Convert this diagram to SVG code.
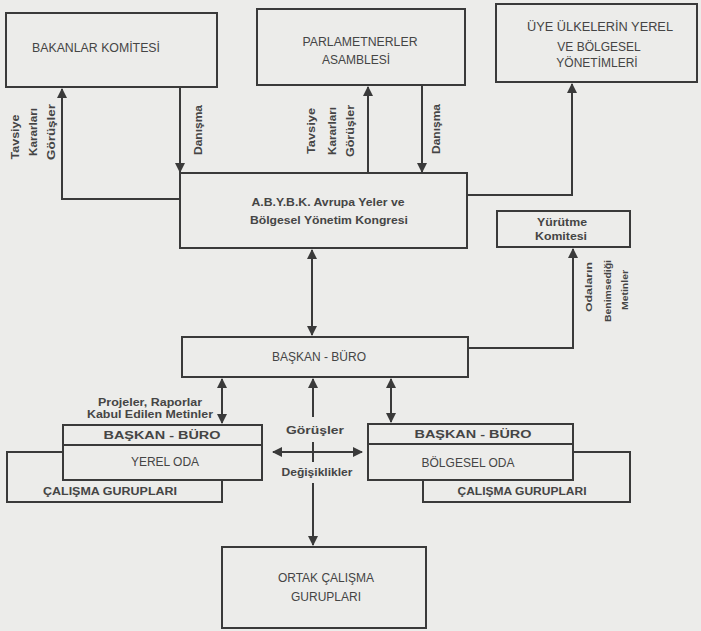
<svg xmlns="http://www.w3.org/2000/svg" width="701" height="631" viewBox="0 0 701 631">
<style>
.box{fill:#ececea;stroke:#3a3a3a;stroke-width:2}
.ln{fill:none;stroke:#3a3a3a;stroke-width:2}
.t{font-family:"Liberation Sans",Arial,sans-serif;fill:#454545;text-anchor:middle}
.r{font-size:12px}
.b{font-size:11px;font-weight:bold}
.s{font-size:10px;font-weight:bold}
.xs{font-size:9px;font-weight:bold}
</style>
<defs>
<marker id="ah" viewBox="0 0 10 10" refX="9" refY="5" markerWidth="5" markerHeight="5" orient="auto-start-reverse" markerUnits="strokeWidth">
<path d="M0,0 L10,5 L0,10 z" fill="#3a3a3a"/>
</marker>
</defs>
<rect width="701" height="631" fill="#ececea"/>

<g id="connectors">
<path class="ln" d="M180,199 H62 V89" marker-end="url(#ah)"/>
<path class="ln" d="M180,87 V172" marker-end="url(#ah)"/>
<path class="ln" d="M368,173 V87" marker-end="url(#ah)"/>
<path class="ln" d="M422,86 V172" marker-end="url(#ah)"/>
<path class="ln" d="M467,195 H572 V84" marker-end="url(#ah)"/>
<path class="ln" d="M312,250 V335" marker-start="url(#ah)" marker-end="url(#ah)"/>
<path class="ln" d="M468,348 H573 V249" marker-end="url(#ah)"/>
<path class="ln" d="M222,379 V423" marker-start="url(#ah)" marker-end="url(#ah)"/>
<path class="ln" d="M391,379 V422" marker-start="url(#ah)" marker-end="url(#ah)"/>
<path class="ln" d="M313,417 V379" marker-end="url(#ah)"/>
<path class="ln" d="M273,452 H362" marker-start="url(#ah)" marker-end="url(#ah)"/>
<path class="ln" d="M313,442 V462"/>
<path class="ln" d="M313,483 V545" marker-end="url(#ah)"/>
<text class="t s" transform="rotate(-90 19 137)" x="19" y="137" textLength="45" lengthAdjust="spacingAndGlyphs">Tavsiye</text>
<text class="t s" transform="rotate(-90 37 132)" x="37" y="132" textLength="48" lengthAdjust="spacingAndGlyphs">Kararları</text>
<text class="t s" transform="rotate(-90 55 132)" x="55" y="132" textLength="56" lengthAdjust="spacingAndGlyphs">Görüşler</text>
<text class="t s" transform="rotate(-90 202 130)" x="202" y="130" textLength="50" lengthAdjust="spacingAndGlyphs">Danışma</text>
<text class="t s" transform="rotate(-90 315 131)" x="315" y="131" textLength="46" lengthAdjust="spacingAndGlyphs">Tavsiye</text>
<text class="t s" transform="rotate(-90 336 131)" x="336" y="131" textLength="48" lengthAdjust="spacingAndGlyphs">Kararları</text>
<text class="t s" transform="rotate(-90 354 131)" x="354" y="131" textLength="52" lengthAdjust="spacingAndGlyphs">Görüşler</text>
<text class="t s" transform="rotate(-90 440 129)" x="440" y="129" textLength="50" lengthAdjust="spacingAndGlyphs">Danışma</text>
<text class="t xs" transform="rotate(-90 592 287)" x="592" y="287" textLength="50" lengthAdjust="spacingAndGlyphs">Odaların</text>
<text class="t xs" transform="rotate(-90 611 291)" x="611" y="291" textLength="62" lengthAdjust="spacingAndGlyphs">Benimsediği</text>
<text class="t xs" transform="rotate(-90 628 290)" x="628" y="290" textLength="40" lengthAdjust="spacingAndGlyphs">Metinler</text>
<text class="t s" x="150" y="406" textLength="104" lengthAdjust="spacingAndGlyphs">Projeler, Raporlar</text>
<text class="t s" x="150" y="418" textLength="126" lengthAdjust="spacingAndGlyphs">Kabul Edilen Metinler</text>
<text class="t s" x="315" y="434" textLength="58" lengthAdjust="spacingAndGlyphs">Görüşler</text>
<text class="t s" x="317" y="476" textLength="71" lengthAdjust="spacingAndGlyphs">Değişiklikler</text>
</g>

<g id="bakanlar">
<rect class="box" x="6" y="13" width="211" height="74"/>
<text class="t r" x="96" y="52" textLength="128" lengthAdjust="spacingAndGlyphs">BAKANLAR KOMİTESİ</text>
</g>
<g id="parlamenterler">
<rect class="box" x="257" y="9" width="208" height="76"/>
<text class="t r" x="360" y="46" textLength="115" lengthAdjust="spacingAndGlyphs">PARLAMETNERLER</text>
<text class="t r" x="356" y="64">ASAMBLESİ</text>
</g>
<g id="uye">
<rect class="box" x="496" y="4" width="201" height="78"/>
<text class="t r" x="600" y="31" textLength="146" lengthAdjust="spacingAndGlyphs">ÜYE ÜLKELERİN YEREL</text>
<text class="t r" x="599" y="51">VE BÖLGESEL</text>
<text class="t r" x="597" y="67">YÖNETİMLERİ</text>
</g>
<g id="abybk">
<rect class="box" x="180" y="173" width="287" height="75"/>
<text class="t b" x="328" y="206" textLength="153" lengthAdjust="spacingAndGlyphs">A.B.Y.B.K. Avrupa Yeler ve</text>
<text class="t b" x="329" y="224" textLength="158" lengthAdjust="spacingAndGlyphs">Bölgesel Yönetim Kongresi</text>
</g>
<g id="yurutme">
<rect class="box" x="497" y="211" width="133" height="36"/>
<text class="t s" x="562" y="226" textLength="50" lengthAdjust="spacingAndGlyphs">Yürütme</text>
<text class="t s" x="561" y="240" textLength="52" lengthAdjust="spacingAndGlyphs">Komitesi</text>
</g>
<g id="baskan-buro">
<rect class="box" x="182" y="337" width="286" height="40"/>
<text class="t r" x="319" y="361">BAŞKAN - BÜRO</text>
</g>
<g id="calisma-sol">
<rect class="box" x="7" y="452" width="215" height="50"/>
<text class="t s" x="110" y="495" textLength="134" lengthAdjust="spacingAndGlyphs">ÇALIŞMA GURUPLARI</text>
</g>
<g id="yerel-oda">
<rect class="box" x="63" y="425" width="199" height="55"/>
<line class="ln" x1="63" y1="445" x2="262" y2="445"/>
<text class="t b" x="162" y="439" font-size="12" textLength="117" lengthAdjust="spacingAndGlyphs">BAŞKAN - BÜRO</text>
<text class="t r" x="165" y="466">YEREL ODA</text>
</g>
<g id="calisma-sag">
<rect class="box" x="423" y="452" width="207" height="50"/>
<text class="t s" x="522" y="495" textLength="129" lengthAdjust="spacingAndGlyphs">ÇALIŞMA GURUPLARI</text>
</g>
<g id="bolgesel-oda">
<rect class="box" x="368" y="424" width="205" height="56"/>
<line class="ln" x1="368" y1="444" x2="573" y2="444"/>
<text class="t b" x="473" y="438" textLength="117" lengthAdjust="spacingAndGlyphs">BAŞKAN - BÜRO</text>
<text class="t r" x="468" y="467">BÖLGESEL ODA</text>
</g>
<g id="ortak">
<rect class="box" x="222" y="547" width="204" height="81"/>
<text class="t r" x="326" y="582">ORTAK ÇALIŞMA</text>
<text class="t r" x="326" y="601">GURUPLARI</text>
</g>
</svg>
